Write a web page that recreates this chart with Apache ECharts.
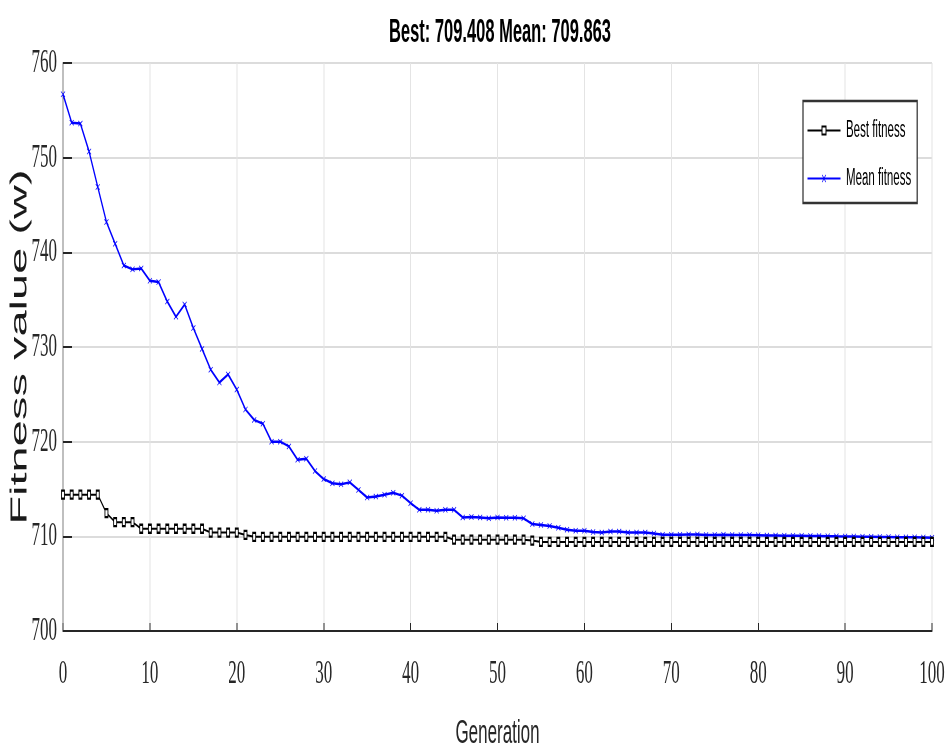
<!DOCTYPE html>
<html>
<head>
<meta charset="utf-8">
<script src="https://cdn.jsdelivr.net/npm/echarts@6/dist/echarts.min.js"></script>
<style>
  html, body { margin: 0; padding: 0; background: #fff; overflow: hidden; }
  /* the chart is laid out twice as wide and squeezed back horizontally,
     which gives the tall, condensed lettering of the figure */
  #chart { width: 1894px; height: 751px; transform: scaleX(0.5); transform-origin: 0 0; }
</style>
</head>
<body>
<div id="chart"></div>
<script>
// Generation index 0..100
const generations = Array.from({ length: 101 }, (_, i) => i);

// Best fitness of each generation
const bestFitness = [
  714.4, 714.4, 714.4, 714.4, 714.4, 712.45, 711.5, 711.5, 711.5, 710.8,
  710.8, 710.8, 710.8, 710.8, 710.8, 710.8, 710.8, 710.4, 710.4, 710.4,
  710.4, 710.15, 709.95, 709.95, 709.95, 709.95, 709.95, 709.95, 709.95, 709.95,
  709.95, 709.95, 709.95, 709.95, 709.95, 709.95, 709.95, 709.95, 709.95, 709.95,
  709.95, 709.95, 709.95, 709.95, 709.95, 709.65, 709.65, 709.65, 709.65, 709.65,
  709.65, 709.65, 709.65, 709.65, 709.55, 709.408, 709.408, 709.408, 709.408, 709.408,
  709.408, 709.408, 709.408, 709.408, 709.408, 709.408, 709.408, 709.408, 709.408, 709.408,
  709.408, 709.408, 709.408, 709.408, 709.408, 709.408, 709.408, 709.408, 709.408, 709.408,
  709.408, 709.408, 709.408, 709.408, 709.408, 709.408, 709.408, 709.408, 709.408, 709.408,
  709.408, 709.408, 709.408, 709.408, 709.408, 709.408, 709.408, 709.408, 709.408, 709.408,
  709.408
];

// Mean fitness of each generation
const meanFitness = [
  756.7, 753.7, 753.6, 750.65, 746.9, 743.2, 740.9, 738.6, 738.2, 738.3,
  737.0, 736.86, 734.8, 733.2, 734.5, 732.0, 729.8, 727.6, 726.25, 727.1,
  725.5, 723.4, 722.3, 721.9, 720.0, 720.0, 719.5, 718.1, 718.2, 716.9,
  716.05, 715.6, 715.5, 715.7, 714.9, 714.1, 714.2, 714.4, 714.6, 714.3,
  713.5, 712.8, 712.8, 712.7, 712.8, 712.8, 712.0, 712.05, 712.0, 711.9,
  712.0, 711.95, 711.95, 711.9, 711.3, 711.2, 711.1, 710.9, 710.7, 710.6,
  710.6, 710.45, 710.4, 710.5, 710.5, 710.4, 710.4, 710.4, 710.3, 710.16,
  710.16, 710.16, 710.2, 710.2, 710.15, 710.15, 710.17, 710.15, 710.14, 710.14,
  710.12, 710.08, 710.08, 710.07, 710.06, 710.06, 710.04, 710.03, 710.02, 710.0,
  709.99, 709.98, 709.96, 709.95, 709.94, 709.93, 709.91, 709.9, 709.89, 709.88,
  709.863
];

const seriesNames = ['Best fitness', 'Mean fitness'];
const titleText = 'Best: 709.408 Mean: 709.863';
const xAxisName = 'Generation';
const yAxisName = 'Fitness value (w)';

const xRange = { min: 0, max: 100, step: 10 };
const yRange = { min: 700, max: 760, step: 10 };

const crossMarker = 'path://M0,1L1,0L5,4L9,0L10,1L6,5L10,9L9,10L5,6L1,10L0,9L4,5Z';
const inkColor = '#262626';

const chart = echarts.init(document.getElementById('chart'), null, { renderer: 'canvas' });

chart.setOption({
  animation: false,
  backgroundColor: '#ffffff',
  title: {
    text: titleText,
    left: 995,
    textAlign: 'center',
    top: 11,
    textStyle: { fontFamily: 'Liberation Sans', fontWeight: 'bold', fontSize: 33, color: '#000' }
  },
  grid: { left: 126, right: 30, top: 63, bottom: 120, containLabel: false, outerBoundsMode: 'none' },
  legend: {
    orient: 'vertical',
    left: 1606,
    top: 101,
    padding: [18, 12, 13, 8],
    itemGap: 25,
    itemWidth: 66,
    itemHeight: 10,
    backgroundColor: '#fff',
    borderColor: '#333',
    borderWidth: 2.5,
    borderRadius: 0,
    textStyle: { fontFamily: 'Liberation Sans', fontSize: 23, color: '#000', padding: [0, 0, 0, 6] },
    data: seriesNames
  },
  xAxis: {
    type: 'value',
    min: xRange.min,
    max: xRange.max,
    interval: xRange.step,
    name: xAxisName,
    nameLocation: 'middle',
    nameGap: 86,
    nameMoveOverlap: false,
    nameTextStyle: { fontFamily: 'Liberation Sans', fontSize: 34, color: inkColor },
    axisLine: { show: true, onZero: false, lineStyle: { color: inkColor, width: 2 } },
    axisTick: { show: true, inside: true, length: 8, lineStyle: { color: inkColor, width: 2 } },
    axisLabel: { fontFamily: 'Liberation Sans Narrow', fontSize: 34, color: inkColor, margin: 26 },
    splitLine: { show: true, lineStyle: { color: '#e4e4e4', width: 2 } }
  },
  yAxis: {
    type: 'value',
    min: yRange.min,
    max: yRange.max,
    interval: yRange.step,
    name: yAxisName,
    nameLocation: 'middle',
    nameRotate: 90,
    nameGap: 62,
    nameMoveOverlap: false,
    nameTextStyle: { fontFamily: 'Liberation Sans', fontSize: 47, color: '#1a1a1a' },
    axisLine: { show: true, onZero: false, lineStyle: { color: '#808080', width: 2 } },
    axisTick: { show: true, inside: true, length: 18, lineStyle: { color: inkColor, width: 2 } },
    axisLabel: { fontFamily: 'Liberation Sans Narrow', fontSize: 34, color: inkColor, margin: 12 },
    splitLine: { show: true, lineStyle: { color: '#dcdcdc', width: 2 } }
  },
  series: [
    {
      name: seriesNames[0],
      type: 'line',
      data: generations.map((g, i) => [g, bestFitness[i]]),
      showAllSymbol: true,
      symbol: 'rect',
      symbolSize: [6, 8],
      itemStyle: { color: '#fff', borderColor: '#000', borderWidth: 2 },
      lineStyle: { color: '#000', width: 2 },
      z: 3
    },
    {
      name: seriesNames[1],
      type: 'line',
      data: generations.map((g, i) => [g, meanFitness[i]]),
      showAllSymbol: true,
      symbol: crossMarker,
      symbolSize: [9, 6],
      itemStyle: { color: '#0000ff' },
      lineStyle: { color: '#0000ff', width: 2.5 },
      z: 2
    }
  ]
});
</script>
</body>
</html>
